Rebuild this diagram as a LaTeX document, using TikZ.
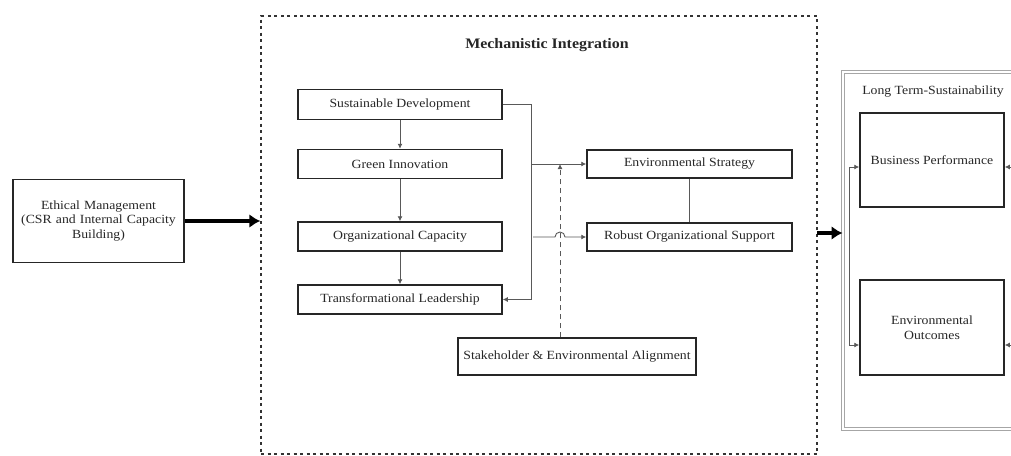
\documentclass[tikz,border=0pt]{standalone}
\usepackage{fontspec}
\setmainfont[FakeStretch=1.1]{Liberation Serif}
\usetikzlibrary{arrows.meta}
\begin{document}
\begin{tikzpicture}[x=1pt,y=-1pt,
  every node/.style={font=\fontsize{12.5}{14.5}\selectfont, text=black!85},
  box/.style={draw=black!85, line width=1.5pt, inner sep=0pt, align=center},
  conn/.style={draw=black!65, line width=0.9pt},
  arr/.style={conn, -{Latex[length=5pt,width=5pt]}},
  dasharr/.style={arr, dash pattern=on 5pt off 4pt},
  thick arrow/.style={draw=black, line width=3.5pt, -{Latex[length=11pt,width=14pt]}},
  container/.style={draw=black!80, line width=1.4pt, dash pattern=on 3pt off 3.5pt},
  ltbox/.style={draw=gray!70, line width=1pt, double=white, double distance=1.2pt}
]
\useasboundingbox (0,0) rectangle (1011,455);
% containers
\node[container, minimum width=556pt, minimum height=438pt, inner sep=0pt] (mech) at (539,235) {};
\node[font=\bfseries\fontsize{14.5}{16}\selectfont] (mtitle) at (547,45) {Mechanistic Integration};
\node[ltbox, minimum width=200pt, minimum height=357pt, inner sep=0pt] (lt) at (943,250.5) {};
\node (lttitle) at (933,92) {Long Term-Sustainability};
% left
\node[box, minimum width=171pt, minimum height=83pt, text width=165pt] (eth) at (98.5,221)
  {Ethical Management\\(CSR and Internal Capacity\\Building)};
% column
\node[box, minimum width=204pt, minimum height=30pt] (sd) at (400,104.5) {Sustainable Development};
\node[box, minimum width=204pt, minimum height=29pt] (gi) at (400,164) {Green Innovation};
\node[box, minimum width=204pt, minimum height=29pt] (oc) at (400,236.5) {Organizational Capacity};
\node[box, minimum width=204pt, minimum height=29pt] (tl) at (400,299.5) {Transformational Leadership};
% right of middle
\node[box, minimum width=205pt, minimum height=28pt] (es) at (689.5,164) {Environmental Strategy};
\node[box, minimum width=205pt, minimum height=28pt] (ros) at (689.5,237) {Robust Organizational Support};
\node[box, minimum width=238pt, minimum height=37pt] (sa) at (577,356.5) {Stakeholder \& Environmental Alignment};
% outcomes
\node[box, minimum width=144pt, minimum height=94pt] (bp) at (932,160) {Business Performance};
\node[box, minimum width=144pt, minimum height=95pt, text width=140pt] (eo) at (932,327.5) {Environmental\\Outcomes};
% coordinates
\coordinate (bx) at (531,0);
\coordinate (dl) at (560,0);
\coordinate (a2) at (817,233);
\coordinate (j1) at (849,167);
\coordinate (j2) at (849,345);
\coordinate (r1) at (1015,167);
\coordinate (r2) at (1015,345);
% connectors
\draw[thick arrow] (eth.east) -- (eth.east -| mech.west);
\draw[arr] (sd.south) -- (gi.north);
\draw[arr] (gi.south) -- (oc.north);
\draw[arr] (oc.south) -- (tl.north);
\draw[arr] (sd.east) -- (sd.east -| bx) |- (tl.east);
\draw[arr] (es.west -| bx) -- (es.west);
\draw[arr] ([xshift=2pt]ros.west -| bx) -- ([xshift=-5pt]ros.west -| dl) arc[start angle=180,end angle=0,radius=5pt] -- (ros.west);
\draw[dasharr] (sa.north -| dl) -- (es.west -| dl);
\draw[conn] (es.south) -- (ros.north);
\draw[thick arrow] (a2) -- (a2 -| lt.west);
\draw[conn] (j1) -- (j2);
\draw[arr] (j1) -- (j1 -| bp.west);
\draw[arr] (j2) -- (j2 -| eo.west);
\draw[arr] (r1) -- (r1 -| bp.east);
\draw[arr] (r2) -- (r2 -| eo.east);
\end{tikzpicture}
\end{document}
